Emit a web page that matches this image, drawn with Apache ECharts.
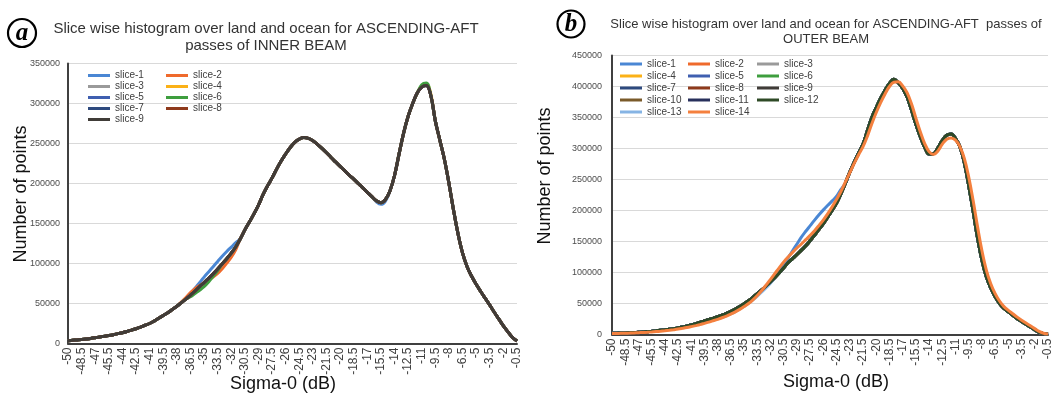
<!DOCTYPE html>
<html>
<head>
<meta charset="utf-8">
<script src="https://cdn.jsdelivr.net/npm/echarts@6/dist/echarts.min.js"></script>
<style>
html,body{margin:0;padding:0;background:#fff;}
#a{position:absolute;left:0;top:0;width:530px;height:394px;}
#b{position:absolute;left:530px;top:0;width:524px;height:394px;}
</style>
</head>
<body>
<div id="a"></div>
<div id="b"></div>
<script>
// ---------- DATA ----------
const categories = ['-50','-49.5','-49','-48.5','-48','-47.5','-47','-46.5','-46','-45.5','-45','-44.5','-44','-43.5','-43','-42.5','-42','-41.5','-41','-40.5','-40','-39.5','-39','-38.5','-38','-37.5','-37','-36.5','-36','-35.5','-35','-34.5','-34','-33.5','-33','-32.5','-32','-31.5','-31','-30.5','-30','-29.5','-29','-28.5','-28','-27.5','-27','-26.5','-26','-25.5','-25','-24.5','-24','-23.5','-23','-22.5','-22','-21.5','-21','-20.5','-20','-19.5','-19','-18.5','-18','-17.5','-17','-16.5','-16','-15.5','-15','-14.5','-14','-13.5','-13','-12.5','-12','-11.5','-11','-10.5','-10','-9.5','-9','-8.5','-8','-7.5','-7','-6.5','-6','-5.5','-5','-4.5','-4','-3.5','-3','-2.5','-2','-1.5','-1','-0.5'];

const innerTitle1 = 'Slice wise histogram over land and ocean for ASCENDING-AFT';
const innerTitle2 = 'passes of INNER BEAM';
const outerTitle1 = 'Slice wise histogram over land and ocean for ASCENDING-AFT  passes of';
const outerTitle2 = 'OUTER BEAM';
const xName = 'Sigma-0 (dB)';
const yName = 'Number of points';

const innerNames = ['slice-1','slice-2','slice-3','slice-4','slice-5','slice-6','slice-7','slice-8','slice-9'];
const outerNames = ['slice-1','slice-2','slice-3','slice-4','slice-5','slice-6','slice-7','slice-8','slice-9','slice-10','slice-11','slice-12','slice-13','slice-14'];

// INNER BEAM: common curve shared by most slices
const innerBase = [3500,4000,4500,5000,5600,6300,7200,8200,9000,9900,
11000,12300,13500,15000,16800,18500,20500,22800,25000,28000,
31500,35000,38500,42500,46500,51000,55500,60500,65500,71000,
76000,81500,87000,93000,99500,106000,113000,121000,131000,142000,
152000,162000,173000,186000,197000,207000,218000,228000,237000,245000,
251500,255500,257500,256500,253500,249000,244000,238500,232500,227000,
221500,216000,210500,205500,200000,194500,189000,183500,178500,176000,
180000,191000,210000,237000,263000,284000,300000,313000,320500,322500,
310000,278000,254000,230000,200000,167000,137000,113000,96000,84000,
74000,65000,56500,48000,39000,30500,22000,14500,7500,3000];
// read deviations (index ranges) of individual inner slices
const innerS1Mid = [56500,62500,69000,76000,83000,89500,96000,102500,109000,115000,120500,126000]; // idx 26-37
const innerS1Valley = [177000,174000,178000]; // idx 68-70
const innerS2Mid = [52000,57500,63500,68500,72500,76000,79500,83000,87500,93500,100500,108000,117500]; // idx 25-37
const innerS4Peak = [322000,325000,312000]; // idx 78-80
const innerS6Mid = [58500,62500,66500,71000,77000,84000,91000]; // idx 27-33
const innerS6Peak = [323500,325500]; // idx 78-79

// OUTER BEAM
const outerBase = [2000,2200,2400,2600,2900,3200,3600,4000,4600,5200,
5900,6700,7500,8400,9500,10800,12200,13800,15500,17500,
19700,22000,24200,26400,28700,31000,34000,37300,41000,45000,
49500,54500,60000,66000,72000,78500,85000,92000,99500,107500,
116000,122500,129000,136000,143000,151500,160500,169500,179000,189500,
200500,212000,227000,244000,262000,278000,293000,307000,329000,350000,
366000,381000,394000,405000,411500,406000,397000,383000,362000,339000,
319000,302000,291000,291500,301000,313000,321500,323500,316000,303000,
277000,240000,199000,156000,120000,93000,75000,61000,50000,42000,
36500,31000,25500,21000,16500,12000,7500,3500,1500,500];
const outerS1Mid = [103000,113000,124000,135000,146000,157000,166500,175500,184500,193000,201000,208500,215500,223000,234000]; // idx 38-52
const outerS13Low = [17500,19500,21500,23500,25500,27500,30500,33500,37000,41000,45500,50500,56000,62000,68500,75500,83000]; // idx 20-36
const outerS14 = [1500,1700,1900,2100,2300,2600,2900,3200,3600,4100,
4700,5300,6000,6800,7700,8700,9900,11200,12700,14300,
16000,18000,20000,22200,24500,27000,29800,33000,36500,40500,
45000,50000,56000,63000,71000,80000,89000,98500,108000,117000,
125000,132500,139500,146000,153000,160000,167500,176000,185000,195000,
206000,218000,231000,246000,261000,276000,290000,303000,320000,340000,
358000,374000,388000,400000,407000,407500,401000,390000,372000,349000,
327000,308000,295000,290500,296000,307000,315000,317000,313500,303000,
284000,254000,216000,174000,135000,104000,82000,66000,54000,45000,
39000,33500,28000,23000,18500,14000,9500,5000,2000,800];

// assemble slice arrays from read pieces
const innerData = {
  'slice-1': innerBase.slice(0,26).concat(innerS1Mid, innerBase.slice(38,68), innerS1Valley, innerBase.slice(71)),
  'slice-2': innerBase.slice(0,25).concat(innerS2Mid, innerBase.slice(38)),
  'slice-3': innerBase,
  'slice-4': innerBase.slice(0,78).concat(innerS4Peak, innerBase.slice(81)),
  'slice-5': innerBase,
  'slice-6': innerBase.slice(0,27).concat(innerS6Mid, innerBase.slice(34,78), innerS6Peak, innerBase.slice(80)),
  'slice-7': innerBase,
  'slice-8': innerBase,
  'slice-9': innerBase
};
const outerData = {
  'slice-1': outerBase.slice(0,38).concat(outerS1Mid, outerBase.slice(53)),
  'slice-2': outerBase, 'slice-3': outerBase, 'slice-4': outerBase, 'slice-5': outerBase,
  'slice-6': outerBase, 'slice-7': outerBase, 'slice-8': outerBase, 'slice-9': outerBase,
  'slice-10': outerBase, 'slice-11': outerBase, 'slice-12': outerBase,
  'slice-13': outerBase.slice(0,20).concat(outerS13Low, outerBase.slice(37)),
  'slice-14': outerS14
};

// ---------- STYLE ----------
const colors = {
  'slice-1':'#4A87D4','slice-2':'#EF6A2C','slice-3':'#9A9A9A','slice-4':'#FBB117',
  'slice-5':'#3F5FB0','slice-6':'#3E9E3E','slice-7':'#2E4A7E','slice-8':'#8E3A1C',
  'slice-9':'#403C38','slice-10':'#7A5A2A','slice-11':'#28305C','slice-12':'#2E4A26',
  'slice-13':'#86B4E4','slice-14':'#F4803E'
};
const FONT = 'Liberation Sans, Arial, sans-serif';

function makeSeries(names, dataMap, zmap) {
  return names.map(n => ({
    name: n, type: 'line', data: dataMap[n], smooth: 0.4, symbol: 'none',
    color: colors[n], lineStyle: { width: 3, color: colors[n] },
    z: (zmap && zmap[n]) || 2, silent: true
  }));
}
function legendCol(left, top, data, lh) {
  return { orient: 'vertical', left: left, top: top, data: data, icon: 'rect',
    itemWidth: 22, itemHeight: 3, itemGap: 0, padding: 0, selectedMode: false,
    textStyle: { fontSize: 10, color: '#404040', fontFamily: FONT, lineHeight: lh } };
}
function axes(maxY, labelMargin) {
  return {
    xAxis: { type: 'category', data: categories, boundaryGap: false,
      axisLine: { lineStyle: { color: '#404040', width: 2 } }, axisTick: { show: false },
      axisLabel: { interval: 2, rotate: 90, fontSize: 12, color: '#404040', margin: 4, fontFamily: FONT },
      splitLine: { show: false } },
    yAxis: { type: 'value', min: 0, max: maxY, interval: 50000,
      axisLine: { show: true, lineStyle: { color: '#404040', width: 2 } }, axisTick: { show: false },
      axisLabel: { fontSize: 9, color: '#4d4d4d', margin: labelMargin, fontFamily: FONT,
        formatter: v => String(v) },
      splitLine: { lineStyle: { color: '#D9D9D9', width: 1 } } }
  };
}
function txt(x, y, s, size, color, extra) {
  return Object.assign({ type: 'text', x: x, y: y, z: 100,
    style: { text: s, fontSize: size, fontFamily: FONT, fill: color, align: 'center', verticalAlign: 'middle' } }, extra || {});
}
function badge(cx, cy, r, letter) {
  return [
    { type: 'circle', z: 100, shape: { cx: cx, cy: cy, r: r }, style: { fill: '#fff', stroke: '#000', lineWidth: 2.2 } },
    { type: 'text', z: 101, x: cx, y: cy + 1, style: { text: letter, fontSize: 25, fontStyle: 'italic', fontWeight: 'bold',
      fontFamily: 'Liberation Serif, serif', fill: '#000', align: 'center', verticalAlign: 'middle' } }
  ];
}

// ---------- LEFT CHART ----------
const chartA = echarts.init(document.getElementById('a'));
const axA = axes(350000, 8);
chartA.setOption({
  animation: false,
  grid: { left: 68, right: 13, top: 63.5, bottom: 50.5 },
  xAxis: axA.xAxis, yAxis: axA.yAxis,
  legend: [
    legendCol(88, 70, ['slice-1','slice-3','slice-5','slice-7','slice-9'], 11),
    legendCol(166, 70, ['slice-2','slice-4','slice-6','slice-8'], 11)
  ],
  series: makeSeries(innerNames, innerData),
  graphic: badge(22, 33, 14, 'a').concat([
    txt(266, 29, innerTitle1, 15, '#333333'),
    txt(266, 46, innerTitle2, 15, '#333333'),
    txt(283, 384, xName, 18, '#111111'),
    txt(21, 194, yName, 18, '#111111', { rotation: Math.PI / 2 })
  ])
});

// ---------- RIGHT CHART ----------
const chartB = echarts.init(document.getElementById('b'));
const axB = axes(450000, 10);
chartB.setOption({
  animation: false,
  grid: { left: 82, right: 2, top: 55.5, bottom: 59.5 },
  xAxis: axB.xAxis, yAxis: axB.yAxis,
  legend: [
    legendCol(90, 58, ['slice-1','slice-4','slice-7','slice-10','slice-13'], 12),
    legendCol(158, 58, ['slice-2','slice-5','slice-8','slice-11','slice-14'], 12),
    legendCol(227, 58, ['slice-3','slice-6','slice-9','slice-12'], 12)
  ],
  series: makeSeries(outerNames, outerData, { 'slice-9': 3, 'slice-12': 3, 'slice-1': 3, 'slice-14': 4 }),
  graphic: badge(41, 24, 13.5, 'b').concat([
    txt(296, 24, outerTitle1, 13, '#333333'),
    txt(296, 39.5, outerTitle2, 13, '#333333'),
    txt(306, 382, xName, 18, '#111111'),
    txt(15, 176, yName, 18, '#111111', { rotation: Math.PI / 2 })
  ])
});
</script>
</body>
</html>
